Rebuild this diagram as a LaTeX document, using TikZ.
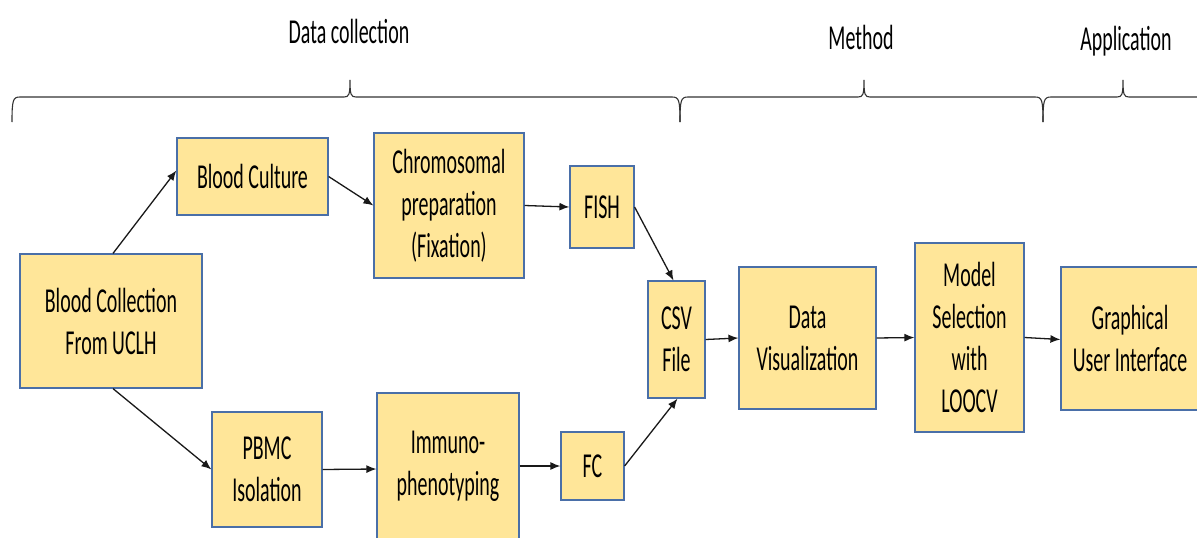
\documentclass[tikz,border=0pt]{standalone}
\usepackage{fontspec}
\setmainfont{Carlito}[FakeStretch=0.57]
\usetikzlibrary{arrows.meta}
\definecolor{boxfill}{HTML}{FFE699}
\definecolor{boxline}{HTML}{4A6FA8}
\tikzset{
  x=1pt, y=-1pt,
  procbox/.style={draw=boxline, line width=1.2pt, fill=boxfill, align=center,
    inner sep=0pt, font=\fontsize{35}{42}\selectfont},
  flow/.style={draw=black!90, line width=1.3pt, -{Latex[length=10pt,width=8pt]}},
  brace/.style={draw=black!80, line width=1.1pt},
  phase/.style={font=\fontsize{35}{42}\selectfont, inner sep=0pt},
}
\begin{document}
\begin{tikzpicture}
\useasboundingbox (0,0) rectangle (1197,538);
\fill[white] (0,0) rectangle (1197,538);

% phase labels
\node[phase] (lab1) at (349,31) {Data collection};
\node[phase] (lab2) at (861,37) {Method};
\node[phase] (lab3) at (1126,41) {Application};

% braces
\draw[brace] (12,122) .. controls (12,100) and (13,97) .. (20,97) -- (344,97)
  .. controls (349,97) and (350,95) .. (350,80) .. controls (350,95) and (351,97) .. (356,97)
  -- (672,97) .. controls (679,97) and (680,100) .. (680,122);
\draw[brace] (680,122) .. controls (680,100) and (681,97) .. (688,97) -- (858,97)
  .. controls (863,97) and (864,95) .. (864,80) .. controls (864,95) and (865,97) .. (870,97)
  -- (1035,97) .. controls (1042,97) and (1043,100) .. (1043,122);
\draw[brace] (1043,122) .. controls (1043,100) and (1044,97) .. (1051,97) -- (1117,97)
  .. controls (1122,97) and (1123,95) .. (1123,80) .. controls (1123,95) and (1124,97) .. (1129,97)
  -- (1200,97);

% boxes
\node[procbox, minimum width=182pt, minimum height=134pt] (bc) at (111,321) {Blood Collection\\From UCLH};
\node[procbox, minimum width=151pt, minimum height=77pt] (cul) at (252.5,176.5) {Blood Culture};
\node[procbox, minimum width=150pt, minimum height=145pt] (chr) at (449,205.5) {Chromosomal\\preparation\\(Fixation)};
\node[procbox, minimum width=64pt, minimum height=82pt] (fish) at (602,207) {FISH};
\node[procbox, minimum width=57pt, minimum height=117pt] (csv) at (676.5,339.5) {CSV\\File};
\node[procbox, minimum width=110pt, minimum height=115pt] (pbmc) at (267,469.5) {PBMC\\Isolation};
\node[procbox, minimum width=142pt, minimum height=146pt] (imm) at (448,466) {Immuno-\\phenotyping};
\node[procbox, minimum width=63pt, minimum height=68pt] (fc) at (592.5,466) {FC};
\node[procbox, minimum width=137pt, minimum height=142pt] (dv) at (807.5,338) {Data\\Visualization};
\node[procbox, minimum width=109pt, minimum height=189pt] (ms) at (969.5,337.5) {Model\\Selection\\with\\LOOCV};
\node[procbox, minimum width=138pt, minimum height=143pt] (gui) at (1130,338.5) {Graphical\\User Interface};

% connectors
\draw[flow] ([xshift=2pt]bc.north) -- ([yshift=6pt]cul.west);
\draw[flow] (cul.east) -- (chr.west);
\draw[flow] (chr.east) -- (fish.west);
\draw[flow] (fish.east) -- ([xshift=-3pt]csv.north);
\draw[flow] ([xshift=2pt]bc.south) -- (pbmc.west);
\draw[flow] (pbmc.east) -- ([yshift=-3pt]imm.west);
\draw[flow] (imm.east) -- (fc.west);
\draw[flow] (fc.east) -- ([xshift=1pt]csv.south);
\draw[flow] (csv.east) -- (dv.west);
\draw[flow] (dv.east) -- (ms.west);
\draw[flow] (ms.east) -- ([yshift=-1pt]gui.west);
\end{tikzpicture}
\end{document}
